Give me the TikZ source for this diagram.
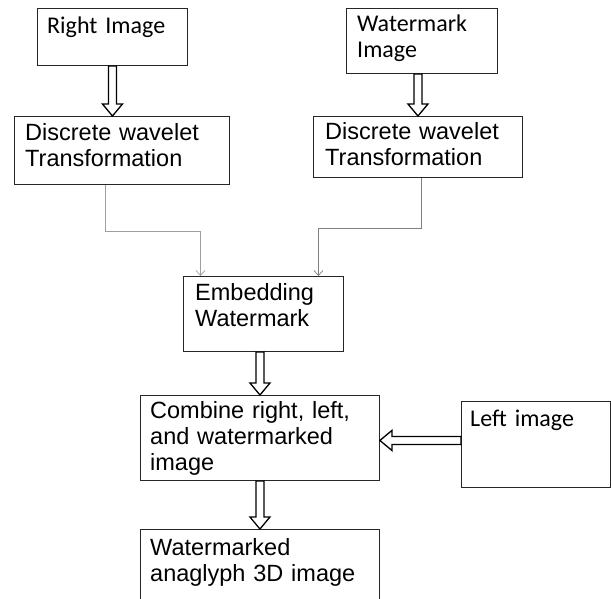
\documentclass[tikz,border=0pt]{standalone}
\usepackage{fontspec}
\setmainfont{Liberation Sans}
\newfontfamily\calibfont{Carlito}
\usetikzlibrary{positioning,calc,arrows.meta}

\begin{document}
\begin{tikzpicture}[x=1pt, y=-1pt,
    box/.style={rectangle, draw=black!85, line width=0.9pt, anchor=north west, inner sep=0pt},
    txt/.style={anchor=base west, inner sep=0pt, text width=#1, align=left, font=\fontsize{23.5}{26}\selectfont},
    txt/.default=200pt,
    ctxt/.style={txt=#1, font=\calibfont\fontsize{24}{26}\selectfont},
    link/.style={draw=gray!75, line width=0.7pt, -{Straight Barb[length=5pt, width=9pt]}},
    fat/.style={draw=black, line width=1.3pt, fill=white, to path={
        ($(\tikztostart)!4pt!90:(\tikztotarget)$)
        -- ($(\tikztotarget)!12pt!(\tikztostart)!4pt!90:(\tikztotarget)$)
        -- ($(\tikztotarget)!12pt!(\tikztostart)!10pt!90:(\tikztotarget)$)
        -- (\tikztotarget)
        -- ($(\tikztotarget)!12pt!(\tikztostart)!10pt!-90:(\tikztotarget)$)
        -- ($(\tikztotarget)!12pt!(\tikztostart)!4pt!-90:(\tikztotarget)$)
        -- ($(\tikztostart)!4pt!-90:(\tikztotarget)$) -- cycle}}]

    \clip (0,0) rectangle (611,598);

    % boxes
    \node[box, minimum width=150pt, minimum height=57pt] (right) at (37,8) {};
    \node[box, minimum width=151pt, minimum height=65pt] (wm) at (346,8) {};
    \node[box, minimum width=215pt, minimum height=68pt] (dwtl) at (14,116) {};
    \node[box, minimum width=209pt, minimum height=61pt] (dwtr) at (313,116) {};
    \node[box, minimum width=160pt, minimum height=75pt] (emb) at (183,276) {};
    \node[box, minimum width=239pt, minimum height=85pt] (comb) at (140,395) {};
    \node[box, minimum width=149pt, minimum height=86pt] (left) at (461,401) {};
    \node[box, minimum width=239pt, minimum height=80pt] (final) at (140,529) {};

    % texts
    \node[ctxt=130pt] (right-t) at ([shift={(10,25)}]right.north west) {Right Image};
    \node[ctxt=130pt] (wm-t) at ([shift={(11,23)}]wm.north west) {Watermark\\Image};
    \node[txt=195pt] (dwtl-t) at ([shift={(11,24)}]dwtl.north west) {Discrete wavelet\\Transformation};
    \node[txt=190pt] (dwtr-t) at ([shift={(12,23)}]dwtr.north west) {Discrete wavelet\\Transformation};
    \node[txt=140pt] (emb-t) at ([shift={(12,24)}]emb.north west) {Embedding\\Watermark};
    \node[txt=225pt] (comb-t) at ([shift={(10,23)}]comb.north west) {Combine right, left,\\and watermarked\\image};
    \node[ctxt=135pt] (left-t) at ([shift={(9,25)}]left.north west) {Left image};
    \node[txt=225pt] (final-t) at ([shift={(10,26)}]final.north west) {Watermarked\\anaglyph 3D image};

    % connectors
    \coordinate (a1) at (right.south |- dwtl.north);
    \coordinate (a2) at (dwtr.north |- wm.south);
    \coordinate (a3) at (comb.north |- emb.south);
    \coordinate (a5s) at ([yshift=4]left.west);
    \coordinate (a5t) at (a5s -| comb.east);

    \draw[fat] (right.south) to (a1);
    \draw[fat] (a2) to (dwtr.north);
    \draw[fat] (a3) to (comb.north);
    \draw[fat] (comb.south) to (final.north);
    \draw[fat] (a5s) to (a5t);

    \draw[link] ([xshift=-17]dwtl.south) -- ++(0,46) -| ([xshift=-63]emb.north);
    \draw[link, draw=gray] ([xshift=3.5]dwtr.south) -- ++(0,50) -| ([xshift=55]emb.north);
\end{tikzpicture}
\end{document}
